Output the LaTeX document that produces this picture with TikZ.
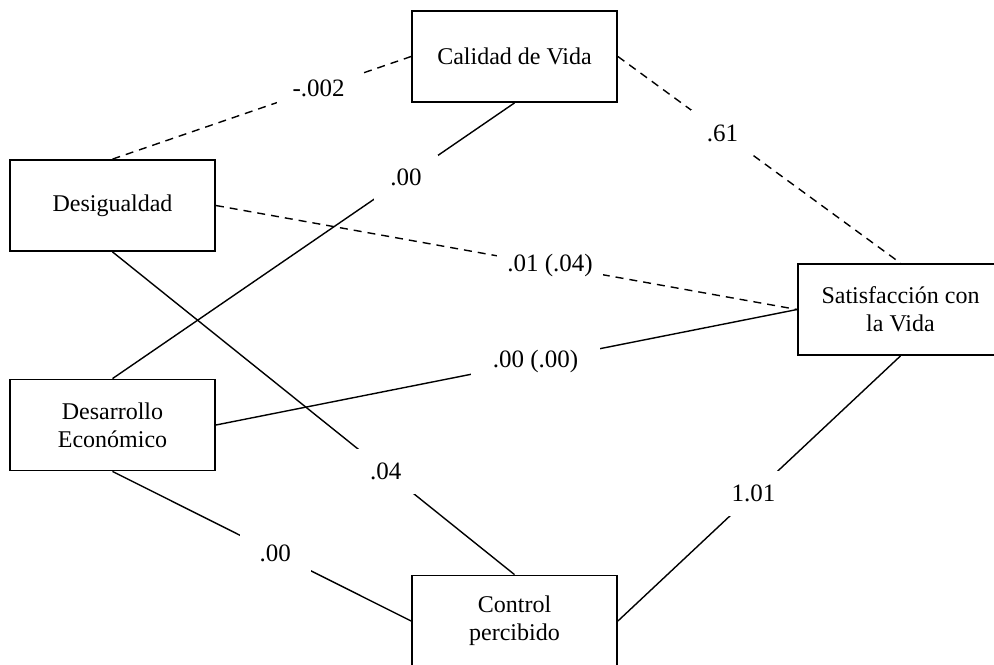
\documentclass[tikz,border=0pt]{standalone}
\usepackage{fontspec}
\setmainfont{Liberation Serif}
\begin{document}
\begin{tikzpicture}[x=0.5pt,y=-0.5pt,
        var/.style={draw,line width=0.9pt,minimum width=102.5pt,minimum height=45.5pt,inner sep=0pt,align=center,font=\fontsize{12}{14}\selectfont},
        efecto/.style={line width=0.7pt},
        noefecto/.style={efecto,dash pattern=on 4pt off 3pt},
        coef/.style={fill=white,inner xsep=8pt,inner ysep=7pt,font=\fontsize{12.5}{14}\selectfont}]
                \useasboundingbox (0,0) rectangle (994,664);
                \node[var] (cal) at (514.5,56.5) {Calidad de Vida};
                \node[var] (des) at (112.5,205.5) {Desigualdad};
                \node[var] (sat) at (900.5,309.5) {Satisfacción con\\la Vida};
                \node[var] (dev) at (112.5,425) {Desarrollo\\Económico};
                \node[var] (con) at (514.5,621) {Control\\percibido};
                \draw[noefecto] (des.north) -- node[coef,pos=0.69] {-.002} (cal.west);
                \draw[efecto] (cal.south) -- node[coef,pos=0.27] {.00} (dev.north);
                \draw[noefecto] (cal.east) -- node[coef,pos=0.37] {.61} (sat.north);
                \draw[noefecto] (des.east) -- node[coef,pos=0.575,inner xsep=5pt] {.01 (.04)} (sat.west);
                \draw[efecto] (dev.east) -- node[coef,pos=0.55,inner xsep=11pt] {.00 (.00)} (sat.west);
                \draw[efecto] (des.south) -- node[coef,pos=0.68] {.04} (con.north);
                \draw[efecto] (dev.south) -- node[coef,pos=0.545,inner xsep=10pt] {.00} (con.west);
                \draw[efecto] (sat.south) -- node[coef,pos=0.52] {1.01} (con.east);
                
\end{tikzpicture}
\end{document}
